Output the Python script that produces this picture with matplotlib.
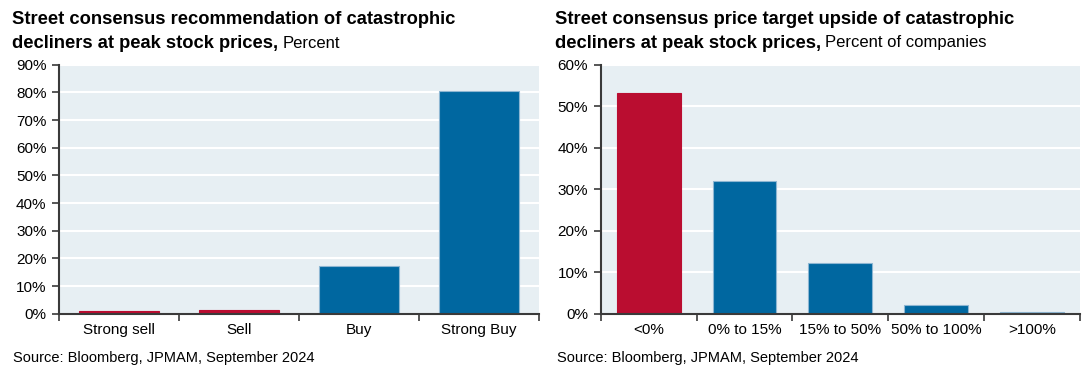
import numpy as np
import matplotlib.pyplot as plt
from matplotlib.ticker import FixedLocator, PercentFormatter

# data
rec_labels = ["Strong sell", "Sell", "Buy", "Strong Buy"]
rec_values = [1.0, 1.3, 17.2, 80.5]
rec_colors = ["red", "red", "blue", "blue"]

pt_labels = ["<0%", "0% to 15%", "15% to 50%", "50% to 100%", ">100%"]
pt_values = [53.3, 32.0, 12.2, 2.1, 0.4]
pt_colors = ["red", "blue", "blue", "blue", "blue"]

BLUE = "#0067A0"
RED = "#BA0D30"
BG = "#E7EFF3"
SPINE = "#3A3A3A"
palette = {"blue": BLUE, "red": RED}

plt.rcParams["font.family"] = ["Liberation Sans", "DejaVu Sans"]

fig = plt.figure(figsize=(10.91, 3.74), dpi=100)
W, H = 1091, 374


def add_panel(x0, x1, labels, values, colors, ymax, step):
    ax = fig.add_axes([x0 / W, (H - 313.7) / H, (x1 - x0) / W, 249 / H])
    n = len(labels)
    x = np.arange(n)
    for xi, v, c in zip(x, values, colors):
        ec = "#8DB6D2" if c == "blue" else palette[c]
        ax.bar(xi, v, width=0.667, color=palette[c], edgecolor=ec,
               linewidth=0.8, zorder=3)
    ax.set_facecolor(BG)
    ax.set_xlim(-0.5, n - 0.5)
    ax.set_ylim(0, ymax)
    ax.set_yticks(np.arange(0, ymax + 0.1, step))
    ax.yaxis.set_major_formatter(PercentFormatter(decimals=0))
    ax.set_xticks(x)
    ax.set_xticklabels(labels)
    ax.xaxis.set_minor_locator(FixedLocator(np.arange(n + 1) - 0.5))
    ax.tick_params(axis="x", which="major", length=0, pad=7, labelsize=11)
    ax.tick_params(axis="x", which="minor", length=5, width=1.2, color=SPINE)
    ax.tick_params(axis="y", length=5, width=1.2, color=SPINE, pad=4,
                   labelsize=11)
    ax.grid(axis="y", color="white", linewidth=1.5, zorder=0)
    ax.set_axisbelow(True)
    for s in ("top", "right"):
        ax.spines[s].set_visible(False)
    for s in ("left", "bottom"):
        ax.spines[s].set_color(SPINE)
        ax.spines[s].set_linewidth(1.5)
        ax.spines[s].set_zorder(4)
    return ax


add_panel(59, 539, rec_labels, rec_values, rec_colors, 90, 10)
add_panel(600.7, 1080, pt_labels, pt_values, pt_colors, 60, 10)


def title(x, line1, line2, unit):
    fig.text(x / W, 1 - 20 / H, line1, fontsize=13.2, fontweight="bold",
             va="center", ha="left")
    t = fig.text(x / W, 1 - 43 / H, line2, fontsize=13.2, fontweight="bold",
                 va="center", ha="left")
    fig.canvas.draw()
    bb = t.get_window_extent(renderer=fig.canvas.get_renderer())
    fig.text((bb.x1 + 4) / W, 1 - 43 / H, unit, fontsize=12,
             va="center", ha="left")


title(12, "Street consensus recommendation of catastrophic",
      "decliners at peak stock prices,", "Percent")
title(555, "Street consensus price target upside of catastrophic",
      "decliners at peak stock prices,", "Percent of companies")

for x in (13, 557):
    fig.text(x / W, 1 - 358 / H, "Source: Bloomberg, JPMAM, September 2024",
             fontsize=10.5, va="center", ha="left")

fig.savefig("out.png", dpi=100)
